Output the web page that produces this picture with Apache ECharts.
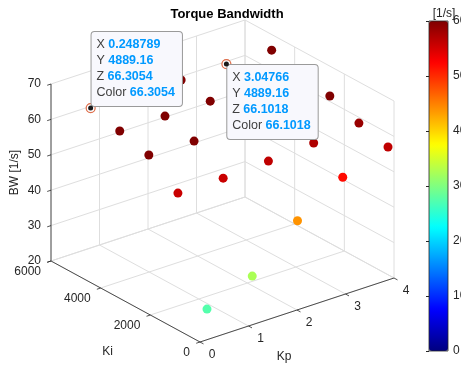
<!DOCTYPE html>
<html>
<head>
<meta charset="utf-8">
<title>Torque Bandwidth</title>
<script src="https://cdn.jsdelivr.net/npm/echarts@6/dist/echarts.min.js"></script>
<style>
  html, body { margin: 0; padding: 0; background: #fff; }
  #chart { width: 461px; height: 366px; }
</style>
</head>
<body>
<div id="chart"></div>
<script>
// swept controller gains
var kpVals = [0.248789, 1.18175, 2.1147, 3.04766, 3.98062];
var kiVals = [204, 1375, 2546, 3718, 4889.16];
// torque bandwidth [1/s], one row per Ki, columns follow kpVals
var bwRows = [
    [27.4, 32.5, 43.9, 52.0, 56.3],
    [55.7, 55.7, 56.3, 57.2, 58.6],
    [62.0, 61.7, 61.8, 61.8, 61.8],
    [64.3, 64.3, 64.3, 64.2, 64.1],
    [66.3054, 66.2, 65.8, 66.1018, 65.8]
];
// data tips on the figure: [row, column]
var tipRefs = [[4, 0], [4, 3]];

var kpTicks = [0, 1, 2, 3, 4];
var kiTicks = [0, 2000, 4000, 6000];
var bwTicks = [20, 30, 40, 50, 60, 70];
var cbarTicks = [0, 10, 20, 30, 40, 50, 60];

var kpLim = [0, 4], kiLim = [0, 6000], bwLim = [20, 70], cLim = [0, 60];

// matlab jet, 9 even stops
var jet = ['#000080', '#0000ff', '#0080ff', '#00ffff', '#80ff80',
           '#ffff00', '#ff8000', '#ff0000', '#800000'];

var FONT = "'Liberation Sans', Arial, Helvetica, sans-serif";
var AXIS_COLOR = '#262626', GRID_COLOR = '#dedede';

// 3D view: screen vector of each full axis range, from the (0,0,20) corner
var view = {
    origin: [200, 342],
    kp: [194, -64],
    ki: [-149, -81],
    bw: [0, -177]
};
function project(kp, ki, bw) {
    var a = (kp - kpLim[0]) / (kpLim[1] - kpLim[0]),
        b = (ki - kiLim[0]) / (kiLim[1] - kiLim[0]),
        c = (bw - bwLim[0]) / (bwLim[1] - bwLim[0]);
    return [view.origin[0] + a * view.kp[0] + b * view.ki[0] + c * view.bw[0],
            view.origin[1] + a * view.kp[1] + b * view.ki[1] + c * view.bw[1]];
}
function unit(v) {
    var l = Math.sqrt(v[0] * v[0] + v[1] * v[1]);
    return [v[0] / l, v[1] / l];
}

var points = [];
kiVals.forEach(function (ki, i) {
    kpVals.forEach(function (kp, j) {
        var bw = bwRows[i][j];
        var xy = project(kp, ki, bw);
        points.push([xy[0], xy[1], bw, kp, ki]);
    });
});

var fmt = function (v) { return String(Number(v.toPrecision(6))); };

var tips = tipRefs.map(function (r, n) {
    var p = points[r[0] * kpVals.length + r[1]];
    var above = n === 0;
    return {
        value: p,
        label: {
            show: true,
            position: above ? [6, 3] : [6, 6],
            align: 'left',
            verticalAlign: above ? 'bottom' : 'top',
            formatter: '{k|X} {v|' + fmt(p[3]) + '}\n{k|Y} {v|' + fmt(p[4]) + '}\n{k|Z} {v|' +
                       fmt(p[2]) + '}\n{k|Color} {v|' + fmt(p[2]) + '}',
            backgroundColor: '#f8f8fd',
            borderColor: '#9a9a9a',
            borderWidth: 1,
            borderRadius: 3,
            padding: [5, 7, 5, 5],
            rich: {
                k: { color: '#404040', fontSize: 12.5, fontFamily: FONT, lineHeight: 16 },
                v: { color: '#0099ff', fontSize: 12.5, fontWeight: 'bold', fontFamily: FONT, lineHeight: 16 }
            }
        }
    };
});

function renderFrame(params, api) {
    var children = [];
    function P(kp, ki, bw) { return api.coord(project(kp, ki, bw)); }
    function seg(a, b, color, w) {
        children.push({
            type: 'line',
            shape: { x1: a[0], y1: a[1], x2: b[0], y2: b[1] },
            style: { stroke: color, lineWidth: w }
        });
    }
    function txt(s, x, y, align, rot) {
        children.push({
            type: 'text', x: x, y: y, rotation: rot || 0,
            style: { text: s, fill: AXIS_COLOR, fontSize: 12, fontFamily: FONT,
                     align: align, verticalAlign: 'middle' }
        });
    }
    // grid: floor and the two back walls
    kpTicks.forEach(function (kp) {
        seg(P(kp, kiLim[0], bwLim[0]), P(kp, kiLim[1], bwLim[0]), GRID_COLOR, 1);
        seg(P(kp, kiLim[1], bwLim[0]), P(kp, kiLim[1], bwLim[1]), GRID_COLOR, 1);
    });
    kiTicks.forEach(function (ki) {
        seg(P(kpLim[0], ki, bwLim[0]), P(kpLim[1], ki, bwLim[0]), GRID_COLOR, 1);
        seg(P(kpLim[1], ki, bwLim[0]), P(kpLim[1], ki, bwLim[1]), GRID_COLOR, 1);
    });
    bwTicks.forEach(function (bw) {
        seg(P(kpLim[0], kiLim[1], bw), P(kpLim[1], kiLim[1], bw), GRID_COLOR, 1);
        seg(P(kpLim[1], kiLim[0], bw), P(kpLim[1], kiLim[1], bw), GRID_COLOR, 1);
    });
    // axis lines
    seg(P(kpLim[0], kiLim[1], bwLim[0]), P(kpLim[0], kiLim[1], bwLim[1]), AXIS_COLOR, 0.8);
    seg(P(kpLim[0], kiLim[0], bwLim[0]), P(kpLim[0], kiLim[1], bwLim[0]), AXIS_COLOR, 0.8);
    seg(P(kpLim[0], kiLim[0], bwLim[0]), P(kpLim[1], kiLim[0], bwLim[0]), AXIS_COLOR, 0.8);

    var uKp = unit(view.kp), uKi = unit(view.ki), tl = 4;
    bwTicks.forEach(function (bw) {
        var p = P(kpLim[0], kiLim[1], bw);
        seg(p, [p[0] - uKp[0] * tl, p[1] - uKp[1] * tl], AXIS_COLOR, 0.8);
        txt(String(bw), p[0] - 10, p[1], 'right');
    });
    kiTicks.forEach(function (ki) {
        var p = P(kpLim[0], ki, bwLim[0]);
        seg(p, [p[0] - uKp[0] * tl, p[1] - uKp[1] * tl], AXIS_COLOR, 0.8);
        txt(String(ki), p[0] - 10, p[1] + 11, 'right');
    });
    kpTicks.forEach(function (kp) {
        var p = P(kp, kiLim[0], bwLim[0]);
        seg(p, [p[0] - uKi[0] * tl, p[1] - uKi[1] * tl], AXIS_COLOR, 0.8);
        txt(String(kp), p[0] + 12, p[1] + 13, 'center');
    });
    // axis names
    var zm = P(kpLim[0], kiLim[1], (bwLim[0] + bwLim[1]) / 2);
    txt('BW [1/s]', zm[0] - 36, zm[1], 'center', Math.PI / 2);
    var im = P(kpLim[0], (kiLim[0] + kiLim[1]) / 2, bwLim[0]);
    txt('Ki', im[0] - 18, im[1] + 50, 'center');
    var pm = P((kpLim[0] + kpLim[1]) / 2, kiLim[0], bwLim[0]);
    txt('Kp', pm[0] - 13, pm[1] + 47, 'center');
    return { type: 'group', children: children };
}

var chart = echarts.init(document.getElementById('chart'), null, { renderer: 'canvas' });
chart.setOption({
    animation: false,
    backgroundColor: '#ffffff',
    title: [{
        text: 'Torque Bandwidth',
        left: 222, top: 3, textAlign: 'center',
        textStyle: { fontSize: 13, fontWeight: 'bold', color: '#000', fontFamily: FONT }
    }, {
        text: '[1/s]',
        left: 439, top: 3, textAlign: 'center',
        textStyle: { fontSize: 12, fontWeight: 'normal', color: AXIS_COLOR, fontFamily: FONT }
    }],
    grid: [
        { left: 0, top: 0, right: 0, bottom: 0, outerBoundsMode: 'none' },
        { left: 429, top: 21, width: 19, height: 330, show: true, z: 10,
          outerBoundsMode: 'none', containLabel: false,
          borderColor: AXIS_COLOR, borderWidth: 0.8, backgroundColor: 'transparent' }
    ],
    xAxis: [
        { type: 'value', min: 0, max: 461, show: false, gridIndex: 0 },
        { type: 'value', min: 0, max: 1, show: false, gridIndex: 1 }
    ],
    yAxis: [
        { type: 'value', min: 0, max: 366, inverse: true, show: false, gridIndex: 0 },
        { type: 'value', gridIndex: 1, position: 'right', min: cLim[0], max: cLim[1], interval: 10,
          axisLine: { show: false }, splitLine: { show: false },
          axisTick: { inside: true, length: 3, lineStyle: { color: AXIS_COLOR } },
          axisLabel: { margin: 5, fontSize: 12, color: AXIS_COLOR, fontFamily: FONT },
          z: 10 }
    ],
    visualMap: {
        type: 'continuous',
        min: cLim[0], max: cLim[1],
        dimension: 2,
        seriesIndex: 1,
        calculable: false,
        left: 429, top: 21,
        itemWidth: 19, itemHeight: 330,
        padding: 0,
        inRange: { color: jet }
    },
    series: [{
        type: 'custom',
        coordinateSystem: 'cartesian2d',
        xAxisIndex: 0, yAxisIndex: 0,
        data: [[0, 0]],
        renderItem: renderFrame,
        silent: true,
        z: 1
    }, {
        type: 'scatter',
        xAxisIndex: 0, yAxisIndex: 0,
        data: points,
        symbolSize: 9,
        itemStyle: { opacity: 1 },
        z: 2
    }, {
        type: 'scatter',
        xAxisIndex: 0, yAxisIndex: 0,
        data: tips,
        symbolSize: 9,
        itemStyle: { color: '#ffffff', borderColor: '#e0704c', borderWidth: 1.2, opacity: 1 },
        z: 5
    }, {
        type: 'scatter',
        xAxisIndex: 0, yAxisIndex: 0,
        data: tips.map(function (t) { return t.value; }),
        symbolSize: 5,
        itemStyle: { color: '#1a1a1a', opacity: 1 },
        z: 6
    }]
});
</script>
</body>
</html>
